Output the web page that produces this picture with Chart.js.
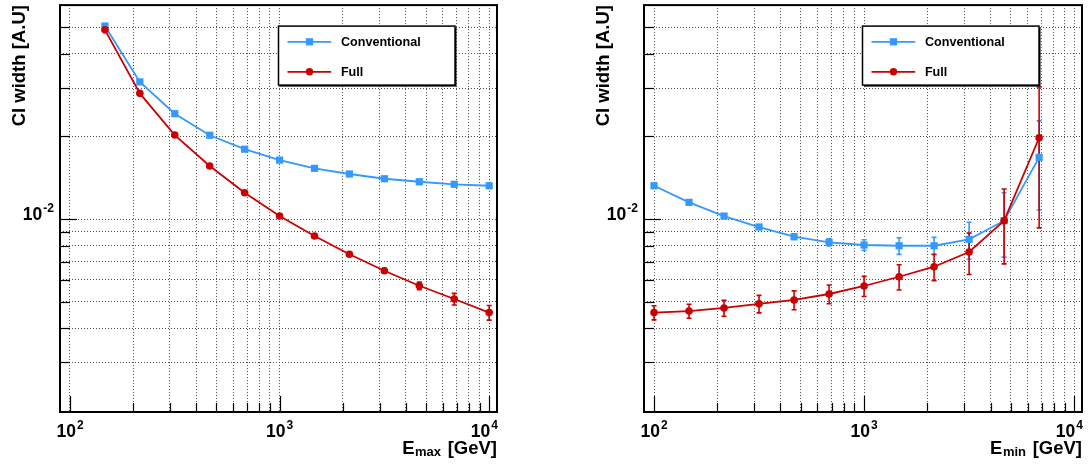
<!DOCTYPE html>
<html>
<head>
<meta charset="utf-8">
<script src="https://cdn.jsdelivr.net/npm/chart.js@4/dist/chart.umd.min.js"></script>
<style>
    body { margin: 0; background: #fff; }
    #wrap { position: relative; width: 1091px; height: 468px; overflow: hidden; }
    canvas { position: absolute; top: 0; }
</style>
</head>
<body>
<div id="wrap">
    <canvas id="leftPanel" width="545" height="468" style="left:0"></canvas>
    <canvas id="rightPanel" width="546" height="468" style="left:545px"></canvas>
</div>
<script>
const FONT = "'Liberation Sans', Arial, Helvetica, sans-serif"

// left panel: scan in E_max
const eMax = [146.8, 215.4, 316.2, 464.2, 681.3, 1000, 1468, 2154, 3162, 4642, 6813, 10000]
const convMax = [0.0505, 0.0316, 0.0242, 0.0202, 0.01797, 0.01639, 0.0153, 0.01459, 0.01402, 0.01367, 0.01338, 0.01322]
const convMaxErr = [0.0004, 0.0003, 0.00022, 0.0002, 0.00018, 0.00016, 0.00015, 0.00014, 0.00013, 0.00012, 0.00011, 0.0001]
const fullMax = [0.0489, 0.0287, 0.02023, 0.0156, 0.01247, 0.01025, 0.00867, 0.00744, 0.00648, 0.00571, 0.00511, 0.00456]
const fullMaxErr = [0.0004, 0.00025, 0.00018, 0.00014, 0.00012, 0.0001, 0.0001, 0.00011, 0.00013, 0.00018, 0.00025, 0.00028]

// right panel: scan in E_min
const eMin = [100, 146.8, 215.4, 316.2, 464.2, 681.3, 1000, 1468, 2154, 3162, 4642, 6813]
const convMin = [0.01322, 0.0115, 0.01025, 0.00935, 0.00862, 0.00822, 0.00804, 0.00799, 0.00799, 0.00843, 0.00986, 0.01678]
const convMinErr = [0.0001, 0.00012, 0.00014, 0.00016, 0.0002, 0.00025, 0.00036, 0.00056, 0.00058, 0.0013, 0.0026, 0.006]
const fullMin = [0.00456, 0.00462, 0.00474, 0.00491, 0.00507, 0.00533, 0.0057, 0.00616, 0.0067, 0.00758, 0.00986, 0.01978]
const fullMinErr = [0.00027, 0.00027, 0.00032, 0.00036, 0.0004, 0.00042, 0.00048, 0.00065, 0.00074, 0.0013, 0.003, 0.0105]

const seriesNames = ["Conventional", "Full"]
const xLabelTicks = [100, 1000, 10000]
const xLabelExps = ["2", "3", "4"]
const yLabelTicks = [0.01]
const yLabelExps = ["-2"]
const xRange = [89.6, 10900]
const yRange = [0.00198, 0.0602]

const BLUE = "#3399ff"
const RED = "#cc0000"

// 1..9 x 10^n ticks strictly inside the range
const logTicks = (lo, hi) => {
    const ticks = []
    for (let d = Math.pow(10, Math.floor(Math.log10(lo))); d < hi; d *= 10) {
        for (let k = 1; k < 10; k++) {
            const v = +(k * d).toPrecision(6)
            if (v > lo * 1.02 && v < hi / 1.02) ticks.push(v)
        }
    }
    return ticks
}
const isDecade = (v) => Math.abs(Math.log10(v) - Math.round(Math.log10(v))) < 1e-6

const xGrid = logTicks(xRange[0], xRange[1])
const yGrid = logTicks(yRange[0], yRange[1])

const drawPower = (ctx, x, y, exp, align, maxRight) => {
    const big = "bold 17.5px " + FONT
    const small = "bold 12px " + FONT
    ctx.font = big
    const w1 = ctx.measureText("10").width
    ctx.font = small
    const w2 = ctx.measureText(exp).width
    let left = align === "center" ? x - (w1 + w2 + 1) / 2 : x - w1 - w2 - 1
    if (maxRight !== undefined && left + w1 + w2 + 1 > maxRight) left = maxRight - w1 - w2 - 1
    ctx.textAlign = "left"
    ctx.textBaseline = "alphabetic"
    ctx.font = big
    ctx.fillText("10", left, y)
    ctx.font = small
    ctx.fillText(exp, left + w1 + 1, y - 8)
}

const rootStyle = {
    id: "rootStyle",
    beforeDatasetsDraw(chart) {
        const {ctx, chartArea, scales: {x, y}} = chart
        ctx.save()
        ctx.beginPath()
        ctx.rect(chartArea.left, chartArea.top, chartArea.width, chartArea.height)
        ctx.clip()
        chart.data.datasets.slice().reverse().forEach((ds) => {
            ctx.strokeStyle = ds.borderColor
            ctx.lineWidth = 1.6
            ds.data.forEach((p, i) => {
                const e = ds.errors[i]
                const px = x.getPixelForValue(p.x)
                const top = y.getPixelForValue(p.y + e)
                const bot = y.getPixelForValue(p.y - e)
                ctx.beginPath()
                ctx.moveTo(px, top)
                ctx.lineTo(px, bot)
                ctx.moveTo(px - 2.5, top)
                ctx.lineTo(px + 2.5, top)
                ctx.moveTo(px - 2.5, bot)
                ctx.lineTo(px + 2.5, bot)
                ctx.stroke()
            })
        })
        ctx.restore()
    },
    afterDatasetsDraw(chart) {
        // legend box with ROOT-like shadow
        const {ctx, chartArea} = chart
        const bx = chartArea.left + 218.5
        const by = chartArea.top + 21
        const bw = 176.5
        const bh = 59
        ctx.save()
        ctx.fillStyle = "#000"
        ctx.fillRect(bx + 1.5, by + 1.5, bw, bh)
        ctx.fillStyle = "#fff"
        ctx.fillRect(bx, by, bw, bh)
        ctx.strokeStyle = "#000"
        ctx.lineWidth = 1.5
        ctx.strokeRect(bx, by, bw, bh)
        seriesNames.forEach((name, i) => {
            const ds = chart.data.datasets.find((d) => d.label === name)
            const ly = by + 15.7 + i * 30
            ctx.strokeStyle = ds.borderColor
            ctx.lineWidth = 1.8
            ctx.beginPath()
            ctx.moveTo(bx + 9, ly)
            ctx.lineTo(bx + 52.7, ly)
            ctx.stroke()
            ctx.fillStyle = ds.borderColor
            if (ds.pointStyle === "rect") {
                ctx.fillRect(bx + 31 - 3.6, ly - 3.6, 7.2, 7.2)
            } else {
                ctx.beginPath()
                ctx.arc(bx + 31, ly, 3.7, 0, Math.PI * 2)
                ctx.fill()
            }
            ctx.fillStyle = "#000"
            ctx.font = "bold 12.6px " + FONT
            ctx.textAlign = "left"
            ctx.textBaseline = "middle"
            ctx.fillText(name, bx + 62.4, ly + 0.5)
        })
        ctx.restore()
    },
    afterDraw(chart, args, opts) {
        const {ctx, chartArea: a, scales: {x, y}} = chart
        ctx.save()
        // tick marks, pointing into the frame
        ctx.strokeStyle = "#000"
        ctx.lineWidth = 1.2
        xGrid.forEach((v) => {
            const px = Math.round(x.getPixelForValue(v)) + 0.5
            ctx.beginPath()
            ctx.moveTo(px, a.bottom)
            ctx.lineTo(px, a.bottom - (isDecade(v) ? 16 : 9))
            ctx.stroke()
        })
        yGrid.forEach((v) => {
            const py = Math.round(y.getPixelForValue(v)) + 0.5
            ctx.beginPath()
            ctx.moveTo(a.left, py)
            ctx.lineTo(a.left + (isDecade(v) ? 17 : 10), py)
            ctx.stroke()
        })
        // frame
        ctx.lineWidth = 2
        ctx.strokeRect(a.left, a.top, a.right - a.left, a.bottom - a.top)

        // tick labels
        ctx.fillStyle = "#000"
        xLabelTicks.forEach((v, i) => {
            drawPower(ctx, x.getPixelForValue(v), a.bottom + 25, xLabelExps[i], "center", a.right + 1)
        })
        yLabelTicks.forEach((v, i) => {
            drawPower(ctx, a.left - 6, y.getPixelForValue(v) + 1, yLabelExps[i], "right")
        })

        // x title: E_sub [GeV], right aligned on the frame
        const big = "bold 18.5px " + FONT
        const small = "bold 13px " + FONT
        ctx.textAlign = "left"
        ctx.textBaseline = "alphabetic"
        ctx.font = big
        const wE = ctx.measureText("E").width
        const wUnit = ctx.measureText(" [GeV]").width
        ctx.font = small
        const wSub = ctx.measureText(opts.subscript).width
        let tx = a.right - wE - wSub - wUnit - 2
        const base = a.bottom + 41.5
        ctx.font = big
        ctx.fillText("E", tx, base)
        ctx.font = small
        ctx.fillText(opts.subscript, tx + wE + 0.5, base + 2)
        ctx.font = big
        ctx.fillText(" [GeV]", tx + wE + wSub + 2, base)

        // y title
        ctx.translate(a.left - 40, a.top)
        ctx.rotate(-Math.PI / 2)
        ctx.textAlign = "right"
        ctx.textBaseline = "middle"
        ctx.font = "bold 18.5px " + FONT
        ctx.fillText("CI width [A.U]", 0, 0)
        ctx.restore()
    }
}

const makeDataset = (label, xs, ys, errs, color, style, radius, order) => {
    return {
        label: label,
        data: xs.map((v, i) => ({x: v, y: ys[i]})),
        errors: errs,
        borderColor: color,
        backgroundColor: color,
        borderWidth: 1.8,
        pointStyle: style,
        pointRadius: radius,
        pointBorderWidth: 0,
        pointBackgroundColor: color,
        tension: 0,
        order: order
    }
}

const logAxis = (range, grid) => {
    return {
        type: "logarithmic",
        min: range[0],
        max: range[1],
        afterBuildTicks: (scale) => {
            scale.ticks = grid.map((v) => ({value: v}))
        },
        ticks: {display: false, autoSkip: false},
        grid: {drawTicks: false, color: "#4a4a4a", lineWidth: 1},
        border: {display: false, dash: [1, 2]}
    }
}

const makePanel = (canvasId, padding, xs, conv, convErr, full, fullErr, subscript) => {
    const context = document.getElementById(canvasId).getContext("2d")
    return new Chart(context, {
        type: "line",
        data: {
            datasets: [
                makeDataset(seriesNames[1], xs, full, fullErr, RED, "circle", 3.8, 0),
                makeDataset(seriesNames[0], xs, conv, convErr, BLUE, "rect", 5.1, 1)
            ]
        },
        options: {
            responsive: false,
            animation: false,
            devicePixelRatio: 1,
            layout: {padding: padding},
            plugins: {
                legend: {display: false},
                tooltip: {enabled: false},
                rootStyle: {subscript: subscript}
            },
            scales: {
                x: logAxis(xRange, xGrid),
                y: logAxis(yRange, yGrid)
            }
        },
        plugins: [rootStyle]
    })
}

makePanel("leftPanel", {left: 60, right: 48, top: 5, bottom: 56}, eMax, convMax, convMaxErr, fullMax, fullMaxErr, "max")
makePanel("rightPanel", {left: 99, right: 9, top: 5, bottom: 56}, eMin, convMin, convMinErr, fullMin, fullMinErr, "min")
</script>
</body>
</html>
